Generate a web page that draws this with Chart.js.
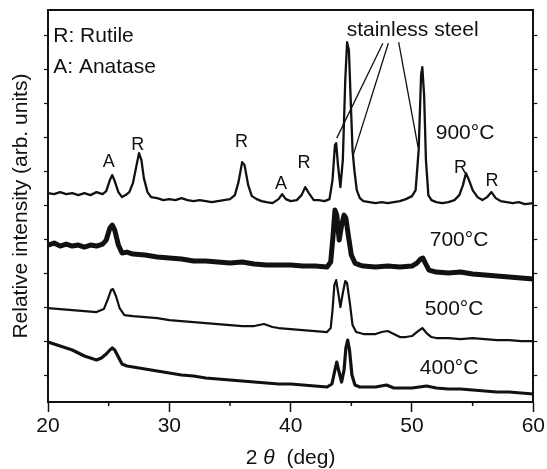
<!DOCTYPE html>
<html>
<head>
<meta charset="utf-8">
<script src="https://cdn.jsdelivr.net/npm/chart.js@4.4.1/dist/chart.umd.min.js"></script>
<style>
  body { margin: 0; background: #fff; }
  canvas { display: block; }
</style>
</head>
<body>
<canvas id="xrdChart" width="547" height="469"></canvas>
<script>
// XRD patterns, each curve already offset upward (arb. units)

// 900 C
const x900 = [20.0, 20.5, 21.0, 21.5, 22.0, 22.5, 23.0, 23.5, 24.0, 24.5, 24.8, 25.1, 25.3, 25.5, 25.8, 26.1, 26.4, 26.7, 27.0, 27.3,
  27.5, 27.7, 27.9, 28.2, 28.5, 29.0, 29.5, 30.0, 30.5, 31.0, 31.5, 32.0, 32.5, 33.0, 33.5, 34.0, 34.5, 35.0, 35.4, 35.7,
  36.0, 36.2, 36.5, 36.8, 37.2, 37.6, 38.0, 38.5, 39.0, 39.3, 39.6, 40.0, 40.5, 40.9, 41.2, 41.5, 41.9, 42.3, 42.8, 43.2,
  43.45, 43.65, 43.75, 43.9, 44.1, 44.3, 44.5, 44.65, 44.8, 44.95, 45.1, 45.25, 45.45, 45.7, 46.0, 46.5, 47.0, 47.5, 48.0, 48.5,
  49.0, 49.5, 50.0, 50.3, 50.55, 50.75, 50.85, 51.0, 51.15, 51.35, 51.6, 52.0, 52.5, 53.0, 53.5, 53.9, 54.2, 54.45, 54.7, 55.0,
  55.4, 55.8, 56.2, 56.55, 56.9, 57.3, 57.8, 58.3, 58.8, 59.3, 60.0];
const y900 = [209, 208, 210, 208, 209, 207, 209, 207, 210, 208, 211, 222, 227, 221, 210, 205, 207, 210, 219, 237,
  249, 242, 224, 210, 205, 204, 202, 203, 202, 204, 202, 201, 202, 201, 200, 201, 202, 203, 207, 220,
  240, 237, 217, 206, 203, 201, 200, 199, 203, 208, 203, 201, 202, 207, 215, 209, 202, 202, 201, 203,
  222, 257, 259, 237, 215, 242, 322, 360, 352, 302, 252, 232, 212, 204, 201, 200, 199, 200, 199, 200,
  201, 203, 206, 212, 252, 327, 335, 307, 242, 207, 202, 200, 199, 200, 202, 207, 217, 229, 222, 212,
  205, 202, 205, 210, 204, 201, 200, 199, 200, 198, 199];

// 700 C
const x700 = [20, 20.5, 21, 21.5, 22, 22.5, 23, 23.5, 24, 24.5, 24.8, 25.1, 25.3, 25.5, 25.8, 26.1, 26.5, 27, 28, 29,
  30, 31, 32, 33, 34, 35, 36, 37, 38, 39, 40, 41, 42, 43, 43.3, 43.5, 43.65, 43.8, 44.0, 44.2,
  44.4, 44.55, 44.75, 45.0, 45.3, 45.7, 46, 47, 48, 49, 50, 50.4, 50.7, 50.9, 51.1, 51.4, 52, 53, 54, 55,
  56, 57, 58, 59, 60];
const y700 = [157, 159, 156, 158, 156, 157, 155, 157, 156, 158, 162, 174, 177, 172, 157, 149, 150, 148, 147, 145,
  144, 143, 141, 141, 140, 139, 140, 138, 137, 137, 137, 136, 136, 135, 140, 167, 192, 187, 162, 177,
  187, 184, 167, 147, 139, 137, 136, 135, 136, 135, 136, 139, 143, 144, 139, 132, 130, 129, 130, 128,
  127, 126, 125, 124, 123];

// 500 C
const x500 = [20, 21, 22, 23, 24, 24.6, 24.9, 25.2, 25.35, 25.6, 25.9, 26.3, 27, 28, 29, 30, 31, 32, 33, 34,
  35, 36, 37, 37.8, 38.5, 39, 40, 41, 42, 43, 43.3, 43.45, 43.6, 43.75, 43.95, 44.1, 44.3, 44.5, 44.65, 44.9,
  45.1, 45.4, 46, 47, 47.5, 48, 48.5, 49, 49.5, 50, 50.5, 50.85, 51.2, 51.6, 52, 53, 54, 55, 56, 57,
  58, 59, 60];
const y500 = [94, 93, 92, 91, 90, 93, 102, 112, 113, 106, 94, 87, 86, 85, 84, 82, 81, 80, 79, 78,
  77, 76, 76, 78, 75, 74, 73, 72, 71, 70, 74, 92, 117, 122, 107, 95, 109, 121, 119, 97,
  77, 70, 68, 68, 70, 71, 68, 65, 65, 66, 71, 74, 69, 65, 64, 64, 63, 64, 63, 62,
  62, 61, 61];

// 400 C
const x400 = [20, 20.5, 21, 21.5, 22, 22.5, 23, 23.5, 24, 24.4, 24.8, 25.1, 25.3, 25.5, 25.8, 26.1, 26.5, 27, 28, 29,
  30, 31, 32, 33, 34, 35, 36, 37, 38, 39, 40, 41, 42, 43, 43.4, 43.65, 43.8, 43.95, 44.2, 44.4,
  44.55, 44.7, 44.85, 45.05, 45.3, 45.7, 46, 47, 47.9, 48.5, 49, 50, 51.2, 52, 53, 54, 55, 56, 57, 58,
  59, 60];
const y400 = [60, 58, 56, 54, 52, 49, 46, 44, 42, 44, 48, 52, 54, 52, 45, 38, 36, 35, 33, 31,
  29, 27, 26, 24, 23, 22, 21, 20, 19, 18, 18, 17, 16, 15, 18, 32, 40, 32, 20, 32,
  54, 62, 52, 27, 17, 15, 15, 15, 17, 14, 14, 14, 16, 14, 13, 13, 12, 11, 10, 10,
  9, 8];

// axis ticks
const xTicks = [20, 30, 40, 50, 60];
const xMinorTicks = [25, 35, 45, 55];
const yTicks = [27, 61, 95, 129, 163, 197, 231, 265, 299, 333, 367];

// text placed in data units
const peakLabels = [
  { text: 'A', x: 25.0, y: 240 },
  { text: 'R', x: 27.4, y: 257 },
  { text: 'R', x: 35.95, y: 260 },
  { text: 'A', x: 39.2, y: 218 },
  { text: 'R', x: 41.1, y: 239 },
  { text: 'R', x: 54.0, y: 234 },
  { text: 'R', x: 56.6, y: 221 }
];
const tempLabels = [
  { text: '900°C', x: 54.37, y: 269 },
  { text: '700°C', x: 53.88, y: 162 },
  { text: '500°C', x: 53.47, y: 93 },
  { text: '400°C', x: 53.06, y: 34 }
];
const steelLines = [
  [47.6, 359, 43.8, 264],
  [48.05, 359, 45.1, 245],
  [48.9, 360, 50.5, 255]
];

const ink = '#111';
const font21 = '21px "Liberation Sans", Arial, sans-serif';
const font18 = '18px "Liberation Sans", Arial, sans-serif';

function pts(xs, ys) {
  return xs.map((x, i) => ({ x: x, y: ys[i] }));
}

function curve(label, xs, ys, width) {
  return {
    label: label,
    data: pts(xs, ys),
    borderColor: ink,
    borderWidth: width,
    borderJoinStyle: 'round',
    borderCapStyle: 'round',
    pointRadius: 0,
    tension: 0,
    fill: false
  };
}

// draws the labels, leader lines, minor ticks and axis titles
const textPlugin = {
  id: 'xrdText',
  afterDraw(chart) {
    const c = chart.ctx;
    const sx = chart.scales.x;
    const sy = chart.scales.y;
    const area = chart.chartArea;
    c.save();
    c.fillStyle = ink;
    c.strokeStyle = ink;

    // minor ticks on the bottom axis
    c.lineWidth = 1.5;
    xMinorTicks.forEach(v => {
      const px = sx.getPixelForValue(v);
      c.beginPath();
      c.moveTo(px, area.bottom);
      c.lineTo(px, area.bottom + 4);
      c.stroke();
    });

    c.textBaseline = 'middle';
    c.font = font21;
    c.textAlign = 'left';
    c.fillText('R: Rutile', sx.getPixelForValue(20.43), sy.getPixelForValue(366));
    c.fillText('A: Anatase', sx.getPixelForValue(20.43), sy.getPixelForValue(335));

    c.textAlign = 'center';
    c.fillText('stainless steel', sx.getPixelForValue(50.05), sy.getPixelForValue(372));
    tempLabels.forEach(t => {
      c.fillText(t.text, sx.getPixelForValue(t.x), sy.getPixelForValue(t.y));
    });

    c.font = font18;
    peakLabels.forEach(t => {
      c.fillText(t.text, sx.getPixelForValue(t.x), sy.getPixelForValue(t.y));
    });

    c.lineWidth = 1.3;
    steelLines.forEach(l => {
      c.beginPath();
      c.moveTo(sx.getPixelForValue(l[0]), sy.getPixelForValue(l[1]));
      c.lineTo(sx.getPixelForValue(l[2]), sy.getPixelForValue(l[3]));
      c.stroke();
    });

    // x title with italic theta
    c.textAlign = 'left';
    const mid = (area.left + area.right) / 2;
    const partA = '2 ';
    const partC = '  (deg)';
    c.font = font21;
    const wA = c.measureText(partA).width;
    const wC = c.measureText(partC).width;
    c.font = 'italic ' + font21;
    const wB = c.measureText('θ').width;
    let tx = mid - (wA + wB + wC) / 2;
    const ty = 458;
    c.font = font21;
    c.fillText(partA, tx, ty);
    tx += wA;
    c.font = 'italic ' + font21;
    c.fillText('θ', tx, ty);
    tx += wB;
    c.font = font21;
    c.fillText(partC, tx, ty);

    // y title
    c.translate(21, (area.top + area.bottom) / 2);
    c.rotate(-Math.PI / 2);
    c.textAlign = 'center';
    c.fillText('Relative intensity (arb. units)', 0, 0);
    c.restore();
  }
};

const yAxis = (pos, width) => ({
  type: 'linear',
  position: pos,
  min: 0,
  max: 392,
  afterBuildTicks: scale => { scale.ticks = yTicks.map(v => ({ value: v })); },
  afterFit: scale => { scale.width = width; },
  ticks: { callback: () => '', autoSkip: false },
  grid: { drawOnChartArea: false, tickLength: 4, tickColor: ink, tickWidth: 1.2 },
  border: { color: ink, width: 2 }
});

const config = {
  type: 'line',
  data: {
    datasets: [
      curve('900°C', x900, y900, 2.3),
      curve('700°C', x700, y700, 5),
      curve('500°C', x500, y500, 2.2),
      curve('400°C', x400, y400, 3.2)
    ]
  },
  options: {
    responsive: false,
    animation: false,
    devicePixelRatio: 1,
    layout: { padding: 0 },
    plugins: {
      legend: { display: false },
      tooltip: { enabled: false }
    },
    scales: {
      x: {
        type: 'linear',
        position: 'bottom',
        min: 20,
        max: 60,
        afterBuildTicks: scale => { scale.ticks = xTicks.map(v => ({ value: v })); },
        afterFit: scale => { scale.height = 67; },
        ticks: { color: ink, font: { family: '"Liberation Sans", Arial, sans-serif', size: 21 }, padding: 2, autoSkip: false },
        grid: { drawOnChartArea: false, tickLength: 10, tickColor: ink, tickWidth: 1.5 },
        border: { color: ink, width: 2 }
      },
      xTop: {
        type: 'linear',
        position: 'top',
        min: 20,
        max: 60,
        afterFit: scale => { scale.height = 10; },
        ticks: { display: false },
        grid: { drawOnChartArea: false, drawTicks: false },
        border: { color: ink, width: 2 }
      },
      y: yAxis('left', 48),
      yRight: yAxis('right', 11)
    }
  },
  plugins: [textPlugin]
};

const ctx = document.getElementById('xrdChart').getContext('2d');
const chart = new Chart(ctx, config);
</script>
</body>
</html>
